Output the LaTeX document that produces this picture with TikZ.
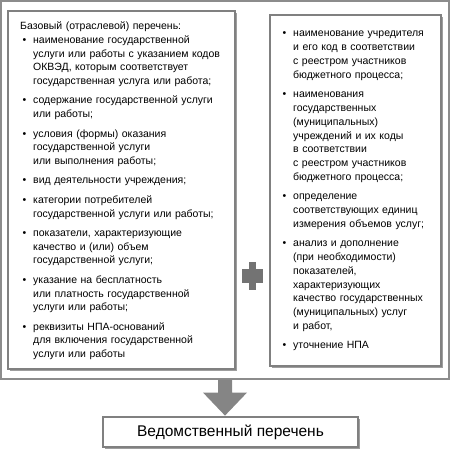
\documentclass[tikz,border=0pt]{standalone}
\usepackage{fontspec}
\setmainfont{Liberation Sans}
\usepackage{enumitem}
\usetikzlibrary{shadows}

\definecolor{framegray}{gray}{0.55}
\definecolor{boxgray}{gray}{0.5}
\definecolor{shadegray}{gray}{0.62}
\definecolor{arrowgray}{gray}{0.52}
\definecolor{plusgray}{gray}{0.45}

\setlist[itemize]{label=\textbullet,leftmargin=13pt,labelsep=7pt,itemsep=5.5pt,parsep=0pt,topsep=0pt,partopsep=0pt}

\begin{document}
\begin{tikzpicture}[x=1pt,y=-1pt,
		box/.style={rectangle,draw=boxgray,line width=1.1pt,fill=white,drop shadow={shadow xshift=1.6pt,shadow yshift=-1.6pt,fill=shadegray,opacity=1}},
		listtext/.style={anchor=north west,inner sep=0pt,text width=#1,align=left,font=\fontsize{10.5}{13.8}\selectfont}]
		\useasboundingbox (0,0) rectangle (452,449);

		\node (frame)[rectangle,draw=framegray,line width=1.2pt,minimum width=448pt,minimum height=378pt] at (225,190) {};

		% two lists side by side
		\node (basic)[box,minimum width=227pt,minimum height=358pt] at (121.5,190) {};
		\node (basictext)[listtext=212pt] at (20,21.5) {Базовый (отраслевой) перечень:
			\begin{itemize}
				\item наименование государственной\\ услуги или работы с указанием кодов\\ ОКВЭД, которым соответствует\\ государственная услуга или работа;
				\item содержание государственной услуги\\ или работы;
				\item условия (формы) оказания\\ государственной услуги\\ или выполнения работы;
				\item вид деятельности учреждения;
				\item категории потребителей\\ государственной услуги или работы;
				\item показатели, характеризующие\\ качество и (или) объем\\ государственной услуги;
				\item указание на бесплатность\\ или платность государственной\\ услуги или работы;
				\item реквизиты НПА-оснований\\ для включения государственной\\ услуги или работы
			\end{itemize}};

		\node (extra)[box,minimum width=171pt,minimum height=351pt] at (355.5,190.5) {};
		\node (extratext)[listtext=158pt] at (280,23) {
			\begin{itemize}
				\item наименование учредителя\\ и его код в соответствии\\ с реестром участников\\ бюджетного процесса;
				\item наименования\\ государственных\\ (муниципальных)\\ учреждений и их коды\\ в соответствии\\ с реестром участников\\ бюджетного процесса;
				\item определение\\ соответствующих единиц\\ измерения объемов услуг;
				\item анализ и дополнение\\ (при необходимости)\\ показателей,\\ характеризующих\\ качество государственных\\ (муниципальных) услуг\\ и работ,
				\item уточнение НПА
			\end{itemize}};

		% plus between the lists
		\fill[plusgray] (242,269) rectangle (263,283);
		\fill[plusgray] (249,262) rectangle (256,290);

		\node (result)[box,minimum width=255pt,minimum height=30pt,font=\fontsize{15.5}{18}\selectfont] at (230.5,432) {Ведомственный перечень};

		\fill[arrowgray] ([xshift=-7pt]frame.south) -- ++(14,0) -- ++(0,13) -- ++(15,0) -- ++(-22,23) -- ++(-22,-23) -- ++(15,0) -- cycle;
	\end{tikzpicture}
\end{document}
